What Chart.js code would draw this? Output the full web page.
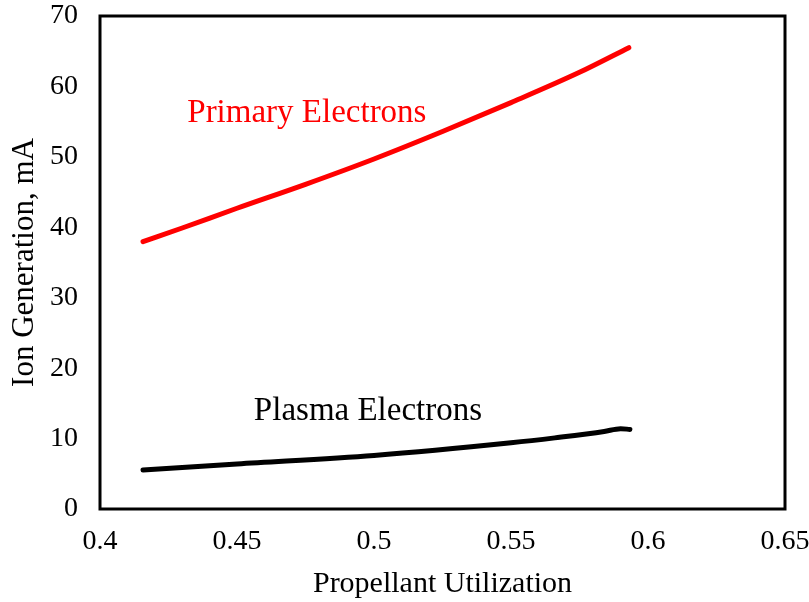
<!DOCTYPE html>
<html>
<head>
<meta charset="utf-8">
<script src="https://cdn.jsdelivr.net/npm/chart.js@4.4.1/dist/chart.umd.min.js"></script>
<style>
  html, body { margin: 0; padding: 0; background: #fff; }
  #wrap { width: 809px; height: 602px; }
</style>
</head>
<body>
<div id="wrap"><canvas id="ionChart" width="809" height="602"></canvas></div>
<script>
// propellant utilization vs ion generation (mA)
var primaryX = [0.4157, 0.43, 0.45, 0.475, 0.5, 0.525, 0.55, 0.575, 0.593];
var primaryY = [37.95, 39.9, 42.7, 46.1, 49.7, 53.6, 57.7, 62.0, 65.5];
var plasmaX = [0.4157, 0.45, 0.5, 0.55, 0.566, 0.584, 0.59, 0.5934];
var plasmaY = [5.54, 6.4, 7.6, 9.4, 10.1, 11.0, 11.4, 11.3];
var seriesNames = ["Primary Electrons", "Plasma Electrons"];
var seriesColors = ["#ff0000", "#000000"];
// where each series name is written, in data units
var labelSpots = [[0.4755, 56.2], [0.4978, 13.8]];

var FONT = "'Liberation Serif', 'Times New Roman', serif";

function toPoints(xs, ys) {
  return xs.map(function (x, i) { return { x: x, y: ys[i] }; });
}

// frame around the plot area plus the in-plot series names
var framePlugin = {
  id: "frame",
  afterDraw: function (chart) {
    var ctx = chart.ctx;
    var a = chart.chartArea;
    ctx.save();
    ctx.strokeStyle = "#000";
    ctx.lineWidth = 3;
    ctx.strokeRect(a.left, a.top, a.right - a.left, a.bottom - a.top);
    ctx.font = "33px " + FONT;
    ctx.textAlign = "center";
    ctx.textBaseline = "middle";
    seriesNames.forEach(function (name, i) {
      ctx.fillStyle = seriesColors[i];
      ctx.fillText(name,
        chart.scales.x.getPixelForValue(labelSpots[i][0]),
        chart.scales.y.getPixelForValue(labelSpots[i][1]));
    });
    ctx.restore();
  }
};

function lineSet(i, xs, ys) {
  return {
    label: seriesNames[i],
    data: toPoints(xs, ys),
    showLine: true,
    borderColor: seriesColors[i],
    borderWidth: 5,
    borderCapStyle: "round",
    borderJoinStyle: "round",
    pointRadius: 0,
    cubicInterpolationMode: "monotone"
  };
}

var ctx = document.getElementById("ionChart").getContext("2d");
var ionChart = new Chart(ctx, {
  type: "scatter",
  plugins: [framePlugin],
  data: {
    datasets: [
      lineSet(0, primaryX, primaryY),
      lineSet(1, plasmaX, plasmaY)
    ]
  },
  options: {
    responsive: false,
    animation: false,
    layout: { padding: { left: 0, right: 24, top: 16, bottom: 0 } },
    plugins: {
      legend: { display: false },
      tooltip: { enabled: false }
    },
    scales: {
      x: {
        type: "linear",
        min: 0.4,
        max: 0.65,
        grid: { display: false, drawTicks: false },
        border: { display: false },
        afterFit: function (s) {
          s.height = 93;
          s.paddingLeft = 0;
          s.paddingRight = 0;
        },
        ticks: {
          stepSize: 0.05,
          padding: 16,
          color: "#000",
          font: { family: FONT, size: 28 },
          callback: function (v) { return String(Math.round(v * 100) / 100); }
        },
        title: {
          display: true,
          text: "Propellant Utilization",
          color: "#000",
          font: { family: FONT, size: 30 },
          padding: { top: 6, bottom: 0 }
        }
      },
      y: {
        min: 0,
        max: 70,
        grid: { display: false, drawTicks: false },
        border: { display: false },
        afterFit: function (s) {
          s.width = 100;
          s.paddingTop = 0;
          s.paddingBottom = 0;
        },
        ticks: {
          stepSize: 10,
          padding: 22,
          color: "#000",
          font: { family: FONT, size: 28 }
        },
        title: {
          display: true,
          text: "Ion Generation, mA",
          color: "#000",
          font: { family: FONT, size: 31 },
          padding: { top: 6, bottom: 0 }
        }
      }
    }
  }
});
</script>
</body>
</html>
